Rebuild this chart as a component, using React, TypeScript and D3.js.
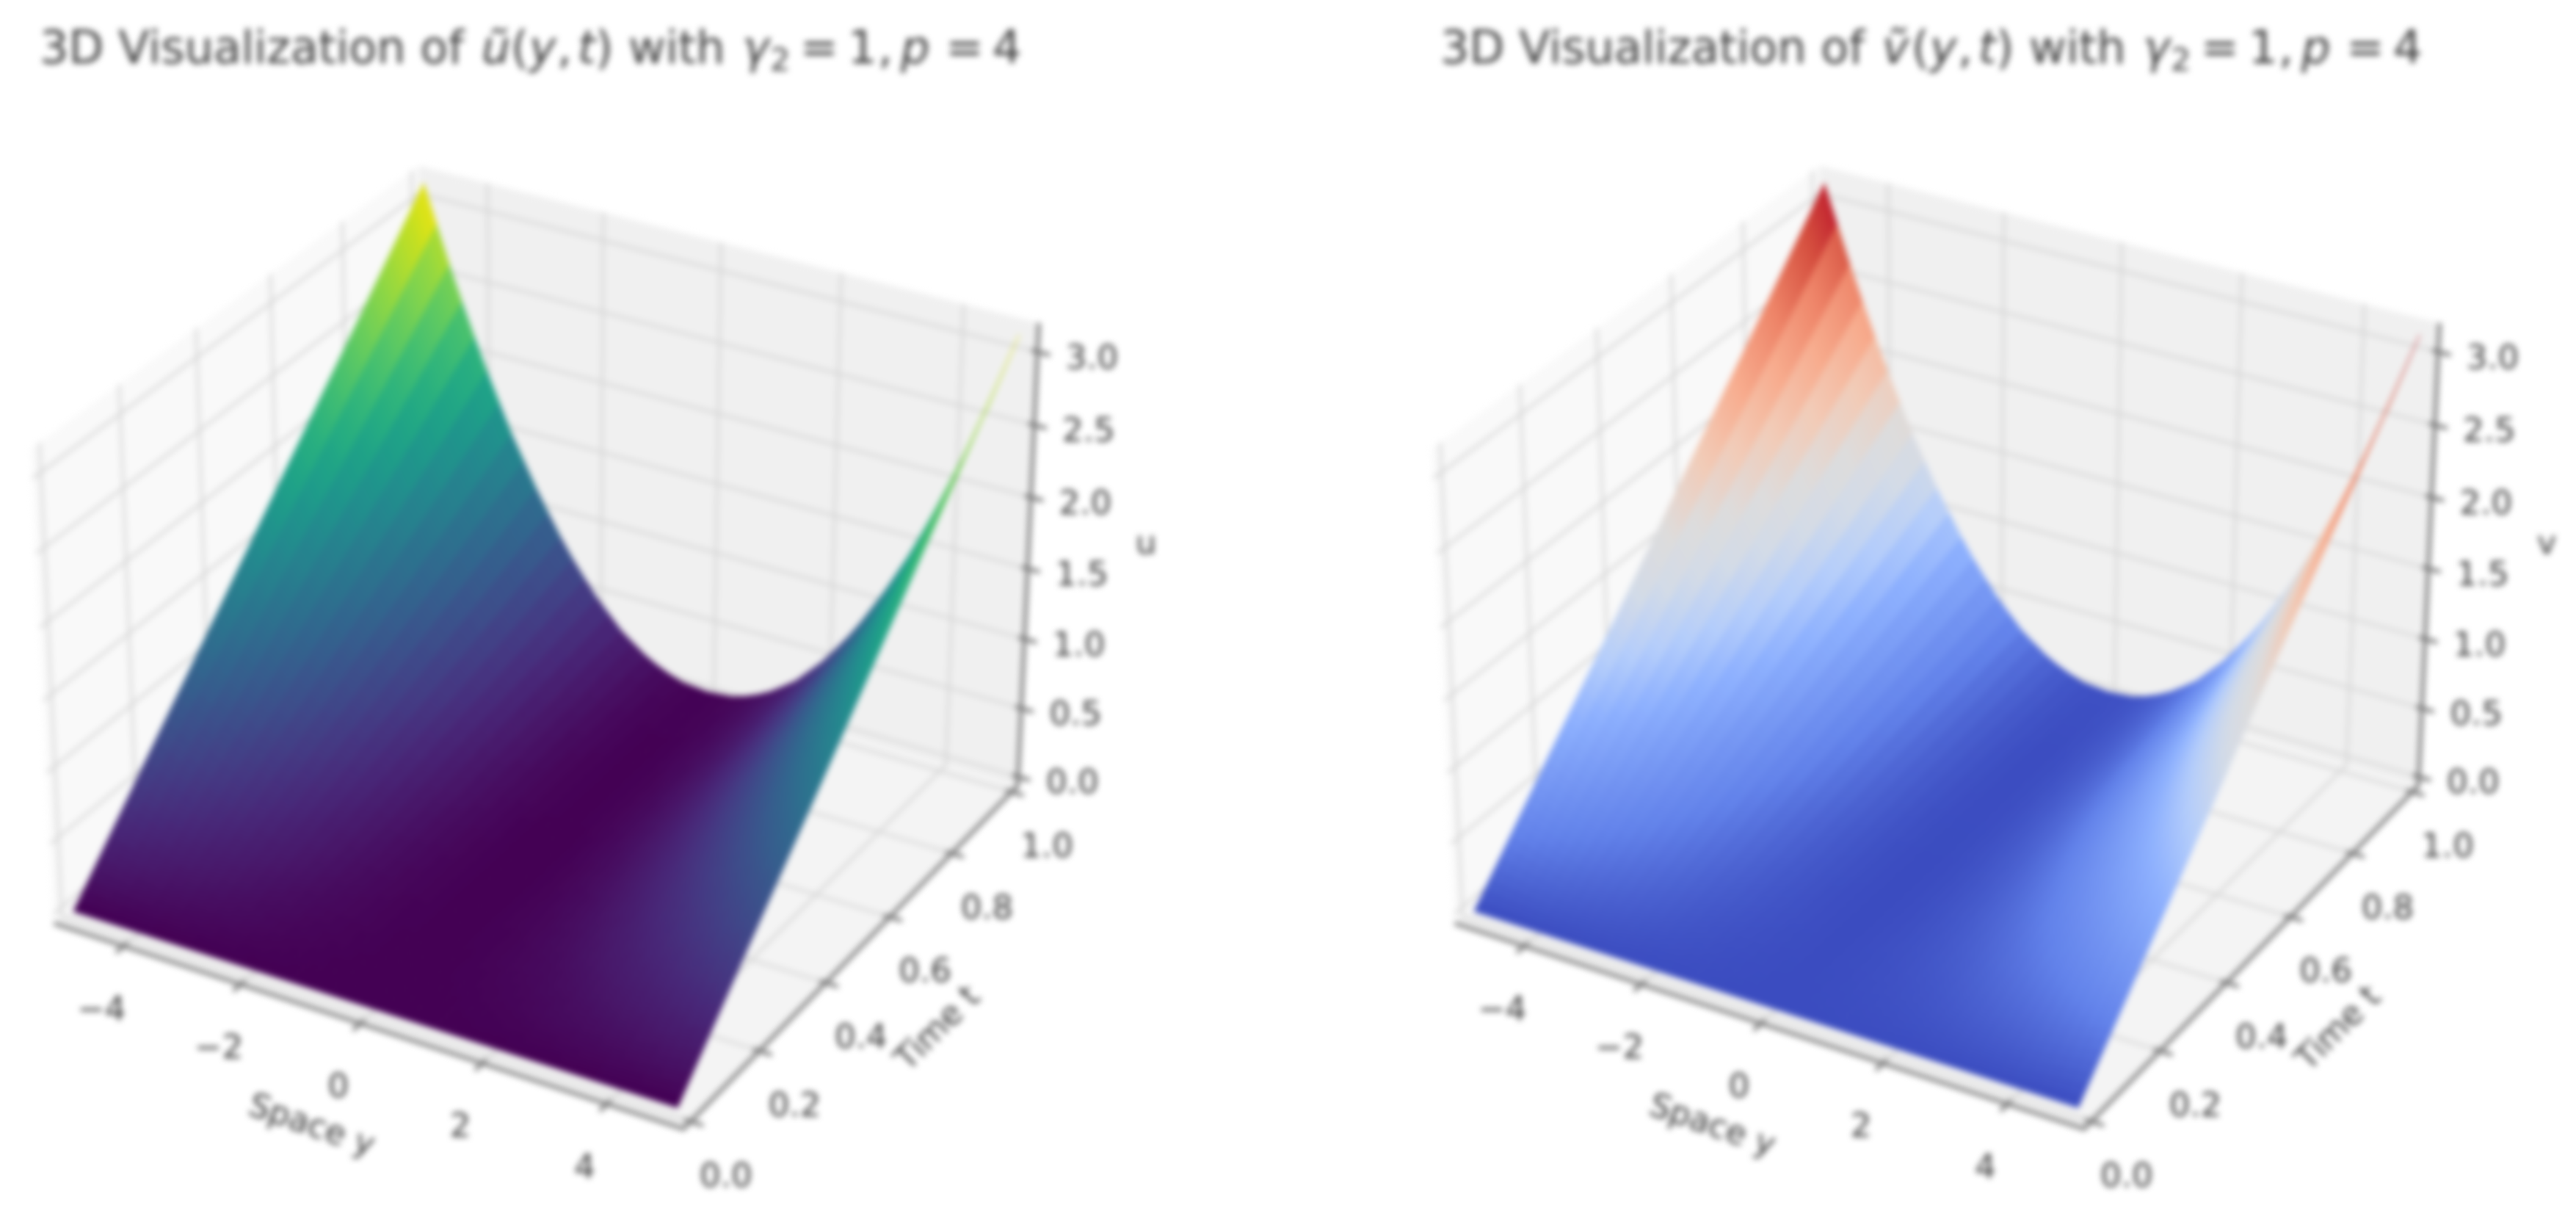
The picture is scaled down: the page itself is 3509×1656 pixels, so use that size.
import React from "react";
import * as d3 from "d3";

// ---- values ----
const titleUMark = "ũ";
const titleVMark = "ṽ";
const spaceValues = [-5, -4.5, -4, -3.5, -3, -2.5, -2, -1.5, -1, -0.5, 0, 0.5, 1, 1.5, 2, 2.5, 3, 3.5, 4, 4.5, 5];
const timeValues = [0, 0.2, 0.4, 0.6, 0.8, 1];
const surfaceAtT0 = [0, 0, 0, 0, 0, 0, 0, 0, 0, 0, 0, 0, 0, 0, 0, 0, 0, 0, 0, 0, 0];
const surfaceAtT02 = [0.63, 0.51, 0.4, 0.31, 0.23, 0.16, 0.1, 0.06, 0.03, 0.01, 0, 0.01, 0.03, 0.06, 0.1, 0.16, 0.23, 0.31, 0.4, 0.51, 0.63];
const surfaceAtT04 = [1.25, 1.01, 0.8, 0.61, 0.45, 0.31, 0.2, 0.11, 0.05, 0.01, 0, 0.01, 0.05, 0.11, 0.2, 0.31, 0.45, 0.61, 0.8, 1.01, 1.25];
const surfaceAtT06 = [1.88, 1.52, 1.2, 0.92, 0.68, 0.47, 0.3, 0.17, 0.08, 0.02, 0, 0.02, 0.08, 0.17, 0.3, 0.47, 0.68, 0.92, 1.2, 1.52, 1.88];
const surfaceAtT08 = [2.5, 2.02, 1.6, 1.22, 0.9, 0.62, 0.4, 0.22, 0.1, 0.03, 0, 0.03, 0.1, 0.22, 0.4, 0.62, 0.9, 1.22, 1.6, 2.02, 2.5];
const surfaceAtT1 = [3.13, 2.53, 2.0, 1.53, 1.13, 0.78, 0.5, 0.28, 0.13, 0.04, 0.02, 0.04, 0.13, 0.28, 0.5, 0.78, 1.13, 1.53, 2.0, 2.53, 3.13];
const surfaceRows = [surfaceAtT0, surfaceAtT02, surfaceAtT04, surfaceAtT06, surfaceAtT08, surfaceAtT1];
const spaceTicks = [-4, -2, 0, 2, 4];
const spaceTickLabels = ["−4", "−2", "0", "2", "4"];
const timeTicks = [0, 0.2, 0.4, 0.6, 0.8, 1];
const timeTickLabels = ["0.0", "0.2", "0.4", "0.6", "0.8", "1.0"];
const heightTicks = [0, 0.5, 1, 1.5, 2, 2.5, 3];
const heightTickLabels = ["0.0", "0.5", "1.0", "1.5", "2.0", "2.5", "3.0"];
const coolwarmStops = ["#3b4cc0", "#6282ea", "#8db0fe", "#b4cdfb", "#d3dbe7", "#dddcdc", "#f2cbb7", "#f7ac8e", "#ee8468", "#d44d3d", "#b40426"];
const coolwarmAt = [0, 0.1, 0.25, 0.33, 0.42, 0.5, 0.6, 0.7, 0.8, 0.9, 1];

const W = 3509, H = 1656;
const TEXT = "#3a3a3a";
const FONT = "'DejaVu Sans', sans-serif";
const FS = 45;

// ---- scales ----
const spaceScale = d3.scaleLinear().domain([-5, 5]).range([0, 1]);
const timeScale = d3.scaleLinear().domain([0, 1]).range([0, 1]);
const heightScale = d3.scaleLinear().domain([0, 3.13]).range([0, 1]);
const viridis = d3.scaleSequential(d3.interpolateViridis).domain([0, 3.13]);
const coolwarm = d3.scaleLinear<string>().domain(coolwarmAt.map((d) => d * 3.13)).range(coolwarmStops);

const LO = -1 / 48, HI = 49 / 48;
const SX = 1.143, SZ = 0.857, DIST = 10;
const ce = Math.cos(Math.PI / 6), se = 0.5;
const ca = Math.cos(-Math.PI / 3), sa = Math.sin(-Math.PI / 3);
const n3 = [ce * ca, ce * sa, se];
const u3 = [0.866025, 0.5, 0];
const v3 = [-0.25, 0.433013, 0.866025];
const K = 8250;

type P = [number, number, number];
function project(nx: number, ny: number, nz: number): P {
  const d = [(nx - 0.5) * SX, (ny - 0.5) * SX, (nz - 0.5) * SZ];
  const dot = (a: number[]) => a[0] * d[0] + a[1] * d[1] + a[2] * d[2];
  const depth = DIST - dot(n3);
  return [dot(u3) / depth, dot(v3) / depth, depth];
}
const flatX = (cx: number) => d3.scaleLinear().domain([0, 1]).range([cx, cx + K]);
const flatY = d3.scaleLinear().domain([0, 1]).range([850, 850 - K]);

// ---- sampled surface mesh ----
const T_STRIPS = 70, Y_STRIPS = 46;
const tColumn = spaceValues.map((_, i) => d3.scaleLinear().domain(timeValues).range(surfaceRows.map((r) => r[i])));
function height(y: number, t: number) {
  return d3.scaleLinear().domain(spaceValues).range(tColumn.map((c) => c(t)))(y);
}
const meshY = d3.scaleLinear().domain([0, Y_STRIPS]).range([-5, 5]);
const meshT = d3.scaleLinear().domain([0, T_STRIPS]).range([0, 1]);
const meshCells: { y: number[]; t: number[]; h: number[] }[] = [];
for (let j = 0; j < T_STRIPS; j++) {
  for (let i = 0; i < Y_STRIPS; i++) {
    const y = [meshY(i), meshY(i + 1), meshY(i + 1), meshY(i)];
    const t = [meshT(j), meshT(j), meshT(j + 1), meshT(j + 1)];
    meshCells.push({ y, t, h: y.map((v, k) => height(v, t[k])) });
  }
}

function Mark({ x, y, rot, size, children }: any) {
  return (
    <text
      x={x}
      y={y}
      fontFamily={FONT}
      fontSize={size ?? FS}
      fill={TEXT}
      textAnchor="middle"
      dominantBaseline="central"
      transform={rot ? `rotate(${rot} ${x} ${y})` : undefined}
    >
      {children}
    </text>
  );
}

function Panel({ cx, mark, zName, color, blurId }: any) {
  const X = flatX(cx);
  const pt = (nx: number, ny: number, nz: number) => {
    const p = project(nx, ny, nz);
    return [X(p[0]), flatY(p[1])] as [number, number];
  };
  const line = d3.line();
  const poly = (pts: [number, number, number][]) => line(pts.map((p) => pt(p[0], p[1], p[2])))! + "Z";

  const cells = meshCells
    .map((c) => {
      const pts = c.y.map((v, k) => project(spaceScale(v), timeScale(c.t[k]), heightScale(c.h[k])));
      const depth = d3.mean(pts, (p) => p[2])!;
      const mean = d3.mean(c.h)!;
      const d = line(pts.map((p) => [X(p[0]), flatY(p[1])] as [number, number]))! + "Z";
      return { d, depth, fill: color(mean) as string };
    })
    .sort((a, b) => d3.descending(a.depth, b.depth));

  const grid = "#d6d6d6";
  const axisC = "#777";
  const tx = (v: number) => cx - 742 + v;

  return (
    <g filter={`url(#${blurId})`}>
      <text y={86} fontFamily={FONT} fontSize={62} fill="#3f3f3f">
        <tspan x={tx(54)}>3D Visualization of</tspan>
        <tspan x={tx(656)} fontStyle="italic">{mark}</tspan>
        <tspan x={tx(696)}>(</tspan>
        <tspan x={tx(721)} fontStyle="italic">y</tspan>
        <tspan x={tx(759)}>,</tspan>
        <tspan x={tx(787)} fontStyle="italic">t</tspan>
        <tspan x={tx(811)}>)</tspan>
        <tspan x={tx(856)}>with</tspan>
        <tspan x={tx(1011)} fontStyle="italic">γ</tspan>
        <tspan x={tx(1049)} fontSize={43} dy={10}>2</tspan>
        <tspan x={tx(1090)} dy={-10}>=</tspan>
        <tspan x={tx(1155)}>1</tspan>
        <tspan x={tx(1196)}>,</tspan>
        <tspan x={tx(1227)} fontStyle="italic">p</tspan>
        <tspan x={tx(1288)}>=</tspan>
        <tspan x={tx(1352)}>4</tspan>
      </text>

      {/* panes */}
      <path d={poly([[LO, LO, LO], [LO, HI, LO], [LO, HI, HI], [LO, LO, HI]])} fill="#f9f9f9" />
      <path d={poly([[LO, HI, LO], [HI, HI, LO], [HI, HI, HI], [LO, HI, HI]])} fill="#f0f0f0" />
      <path d={poly([[LO, LO, LO], [HI, LO, LO], [HI, HI, LO], [LO, HI, LO]])} fill="#f4f4f4" />

      {/* grid lines */}
      <g fill="none" stroke={grid} strokeWidth={3.5}>
        {spaceTicks.map((v) => {
          const x = spaceScale(v);
          return <path key={v} d={line([pt(x, LO, LO), pt(x, HI, LO), pt(x, HI, HI)])!} />;
        })}
        {timeTicks.map((v) => {
          const y = timeScale(v);
          return <path key={v} d={line([pt(HI, y, LO), pt(LO, y, LO), pt(LO, y, HI)])!} />;
        })}
        {heightTicks.map((v) => {
          const z = heightScale(v);
          return <path key={v} d={line([pt(LO, LO, z), pt(LO, HI, z), pt(HI, HI, z)])!} />;
        })}
      </g>

      {/* axis lines and ticks */}
      <g fill="none" stroke={axisC} strokeWidth={5}>
        <path d={line([pt(LO, LO, LO), pt(HI, LO, LO), pt(HI, HI, LO), pt(HI, HI, HI)])!} />
        {spaceTicks.map((v) => {
          const x = spaceScale(v);
          return <path key={v} d={line([pt(x, LO + 0.01, LO), pt(x, LO - 0.02, LO)])!} />;
        })}
        {timeTicks.map((v) => {
          const y = timeScale(v);
          return <path key={v} d={line([pt(HI - 0.01, y, LO), pt(HI + 0.02, y, LO)])!} />;
        })}
        {heightTicks.map((v) => {
          const z = heightScale(v);
          return <path key={v} d={line([pt(HI - 0.01, HI, z), pt(HI + 0.02, HI, z)])!} />;
        })}
      </g>

      {spaceTicks.map((v, i) => {
        const [x, y] = pt(spaceScale(v), LO, LO);
        return <Mark key={v} x={x - 30} y={y + 85}>{spaceTickLabels[i]}</Mark>;
      })}
      {timeTicks.map((v, i) => {
        const [x, y] = pt(HI, timeScale(v), LO);
        return <Mark key={v} x={x + 48} y={y + 73}>{timeTickLabels[i]}</Mark>;
      })}
      {heightTicks.map((v, i) => {
        const [x, y] = pt(HI, HI, heightScale(v));
        return <Mark key={v} x={x + 74} y={y + 7}>{heightTickLabels[i]}</Mark>;
      })}

      <Mark x={cx - 317} y={1531} rot={19}>Space y</Mark>
      <Mark x={cx + 534} y={1399} rot={-45}>Time t</Mark>
      <Mark x={cx + 819} y={738}>{zName}</Mark>

      {/* surface */}
      <g>
        {cells.map((c, i) => (
          <path key={i} d={c.d} fill={c.fill} stroke={c.fill} strokeWidth={1} />
        ))}
      </g>
    </g>
  );
}

export default function App() {
  return (
    <svg
      width={W}
      height={H}
      viewBox={`0 0 ${W} ${H}`}
      style={{ position: "absolute", left: 0, top: 0, display: "block", background: "#fff" }}
    >
      <defs>
        <filter id="soft" filterUnits="userSpaceOnUse" x={0} y={0} width={W} height={H} colorInterpolationFilters="sRGB">
          <feGaussianBlur stdDeviation={4} />
        </filter>
      </defs>
      <Panel cx={742} mark={titleUMark} zName="u" color={viridis} blurId="soft" />
      <Panel cx={2650} mark={titleVMark} zName="v" color={coolwarm} blurId="soft" />
    </svg>
  );
}
